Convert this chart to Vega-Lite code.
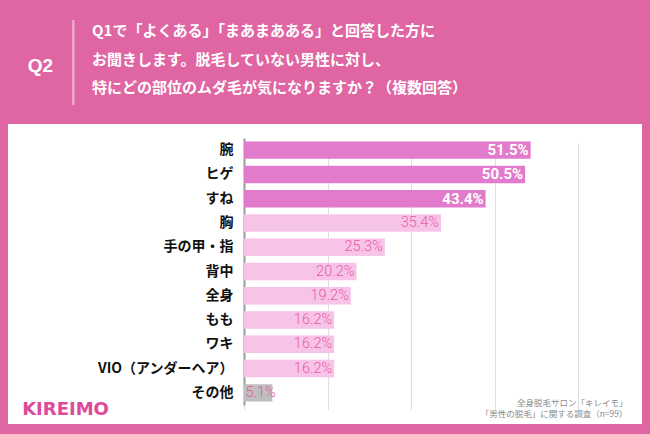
{
  "$schema": "https://vega.github.io/schema/vega-lite/v6.json",
  "width": 634,
  "height": 300,
  "autosize": {"type": "none"},
  "padding": {"left": 8, "top": 124, "right": 8, "bottom": 10},
  "background": "#DF65A3",
  "config": {"view": {"fill": "white", "stroke": null}, "font": "Noto Sans CJK JP"},
  "title": {
    "text": ["Q1で「よくある」「まあまあある」と回答した方に", "お聞きします。脱毛していない男性に対し、", "特にどの部位のムダ毛が気になりますか？（複数回答）"],
    "anchor": "start",
    "frame": "group",
    "dx": 84,
    "dy": 80,
    "offset": 0,
    "color": "white",
    "font": "Noto Sans CJK JP",
    "fontSize": 15,
    "fontWeight": "bold",
    "lineHeight": 28.5
  },
  "data": {
    "values": [
      {"part": "腕", "share": 0.515, "tier": "top"},
      {"part": "ヒゲ", "share": 0.505, "tier": "top"},
      {"part": "すね", "share": 0.434, "tier": "top"},
      {"part": "胸", "share": 0.354, "tier": "mid"},
      {"part": "手の甲・指", "share": 0.253, "tier": "mid"},
      {"part": "背中", "share": 0.202, "tier": "mid"},
      {"part": "全身", "share": 0.192, "tier": "mid"},
      {"part": "もも", "share": 0.162, "tier": "mid"},
      {"part": "ワキ", "share": 0.162, "tier": "mid"},
      {"part": "VIO（アンダーヘア）", "share": 0.162, "tier": "mid"},
      {"part": "その他", "share": 0.051, "tier": "other"}
    ]
  },
  "layer": [
    {
      "mark": {"type": "bar"},
      "encoding": {
        "y": {
          "field": "part", "type": "nominal", "sort": null,
          "scale": {"range": [14, 281], "paddingInner": 0.28, "paddingOuter": 0.14},
          "axis": {
            "orient": "left", "offset": -236, "ticks": false, "grid": false,
            "domainColor": "#9a9a9a", "domainWidth": 2,
            "labelFont": "Noto Sans CJK JP", "labelFontSize": 14, "labelFontWeight": "bold", "labelColor": "#111111", "labelPadding": 11,
            "title": "Q2", "titleX": -204, "titleY": -59, "titleAngle": 0, "titleAlign": "center", "titleBaseline": "middle",
            "titleColor": "white", "titleFont": "Liberation Sans", "titleFontSize": 19, "titleFontWeight": "bold"
          }
        },
        "x": {
          "field": "share", "type": "quantitative",
          "scale": {"domain": [0, 0.6], "range": [236, 570], "nice": false, "zero": true},
          "axis": {
            "orient": "bottom", "values": [0, 0.15, 0.3, 0.45, 0.6], "grid": true, "gridColor": "#dedede", "gridWidth": 1,
            "labels": false, "ticks": false, "domain": false,
            "title": ["全身脱毛サロン「キレイモ」", "「男性の脱毛」に関する調査（n=99）"],
            "titleX": 619, "titleY": -26, "titleAlign": "right", "titleBaseline": "top", "titleAngle": 0,
            "titleColor": "#8c8c8c", "titleFont": "Noto Sans CJK JP", "titleFontSize": 8.5, "titleFontWeight": "normal", "titleLineHeight": 11.5
          }
        },
        "color": {
          "field": "tier", "type": "nominal",
          "scale": {"domain": ["top", "mid", "other"], "range": ["#E27BCB", "#F7C4E7", "#BEBEBE"]},
          "legend": null
        }
      }
    },
    {
      "transform": [{"filter": "datum.tier === 'top'"}],
      "mark": {"type": "text", "align": "right", "baseline": "middle", "dx": -2, "color": "white", "font": "Roboto", "fontWeight": "bold", "fontSize": 15},
      "encoding": {
        "y": {
          "field": "part", "type": "nominal", "sort": null,
          "axis": {
            "orient": "left", "labels": false, "ticks": false, "domain": false, "grid": false,
            "title": "KIREIMO", "titleX": 57, "titleY": 285, "titleAngle": 0, "titleAlign": "center", "titleBaseline": "middle",
            "titleColor": "#E0489A", "titleFont": "DejaVu Sans", "titleFontSize": 18, "titleFontWeight": "bold"
          }
        },
        "x": {
          "field": "share", "type": "quantitative",
          "axis": {
            "orient": "top", "labels": false, "ticks": false, "domain": false, "grid": false,
            "title": "|", "titleX": 65, "titleY": -66, "titleAngle": 0, "titleAlign": "center", "titleBaseline": "middle",
            "titleColor": "white", "titleOpacity": 0.5, "titleFont": "Noto Sans", "titleFontSize": 84, "titleFontWeight": 100
          }
        },
        "text": {"field": "share", "type": "quantitative", "format": ".1%"}
      }
    },
    {
      "transform": [{"filter": "datum.tier === 'mid'"}],
      "mark": {"type": "text", "align": "right", "baseline": "middle", "dx": -2, "color": "#E65AA6", "font": "Roboto", "fontWeight": 300, "fontSize": 14.5},
      "encoding": {
        "y": {"field": "part", "type": "nominal", "sort": null, "axis": null},
        "x": {"field": "share", "type": "quantitative", "axis": null},
        "text": {"field": "share", "type": "quantitative", "format": ".1%"}
      }
    },
    {
      "transform": [{"filter": "datum.tier === 'other'"}],
      "mark": {"type": "text", "align": "left", "baseline": "middle", "dx": 1.5, "color": "#E65AA6", "font": "Roboto", "fontWeight": 300, "fontSize": 14.5},
      "encoding": {
        "y": {"field": "part", "type": "nominal", "sort": null, "axis": null},
        "x": {"datum": 0, "type": "quantitative", "axis": null},
        "text": {"field": "share", "type": "quantitative", "format": ".1%"}
      }
    }
  ],
  "resolve": {"axis": {"x": "independent", "y": "independent"}}
}
